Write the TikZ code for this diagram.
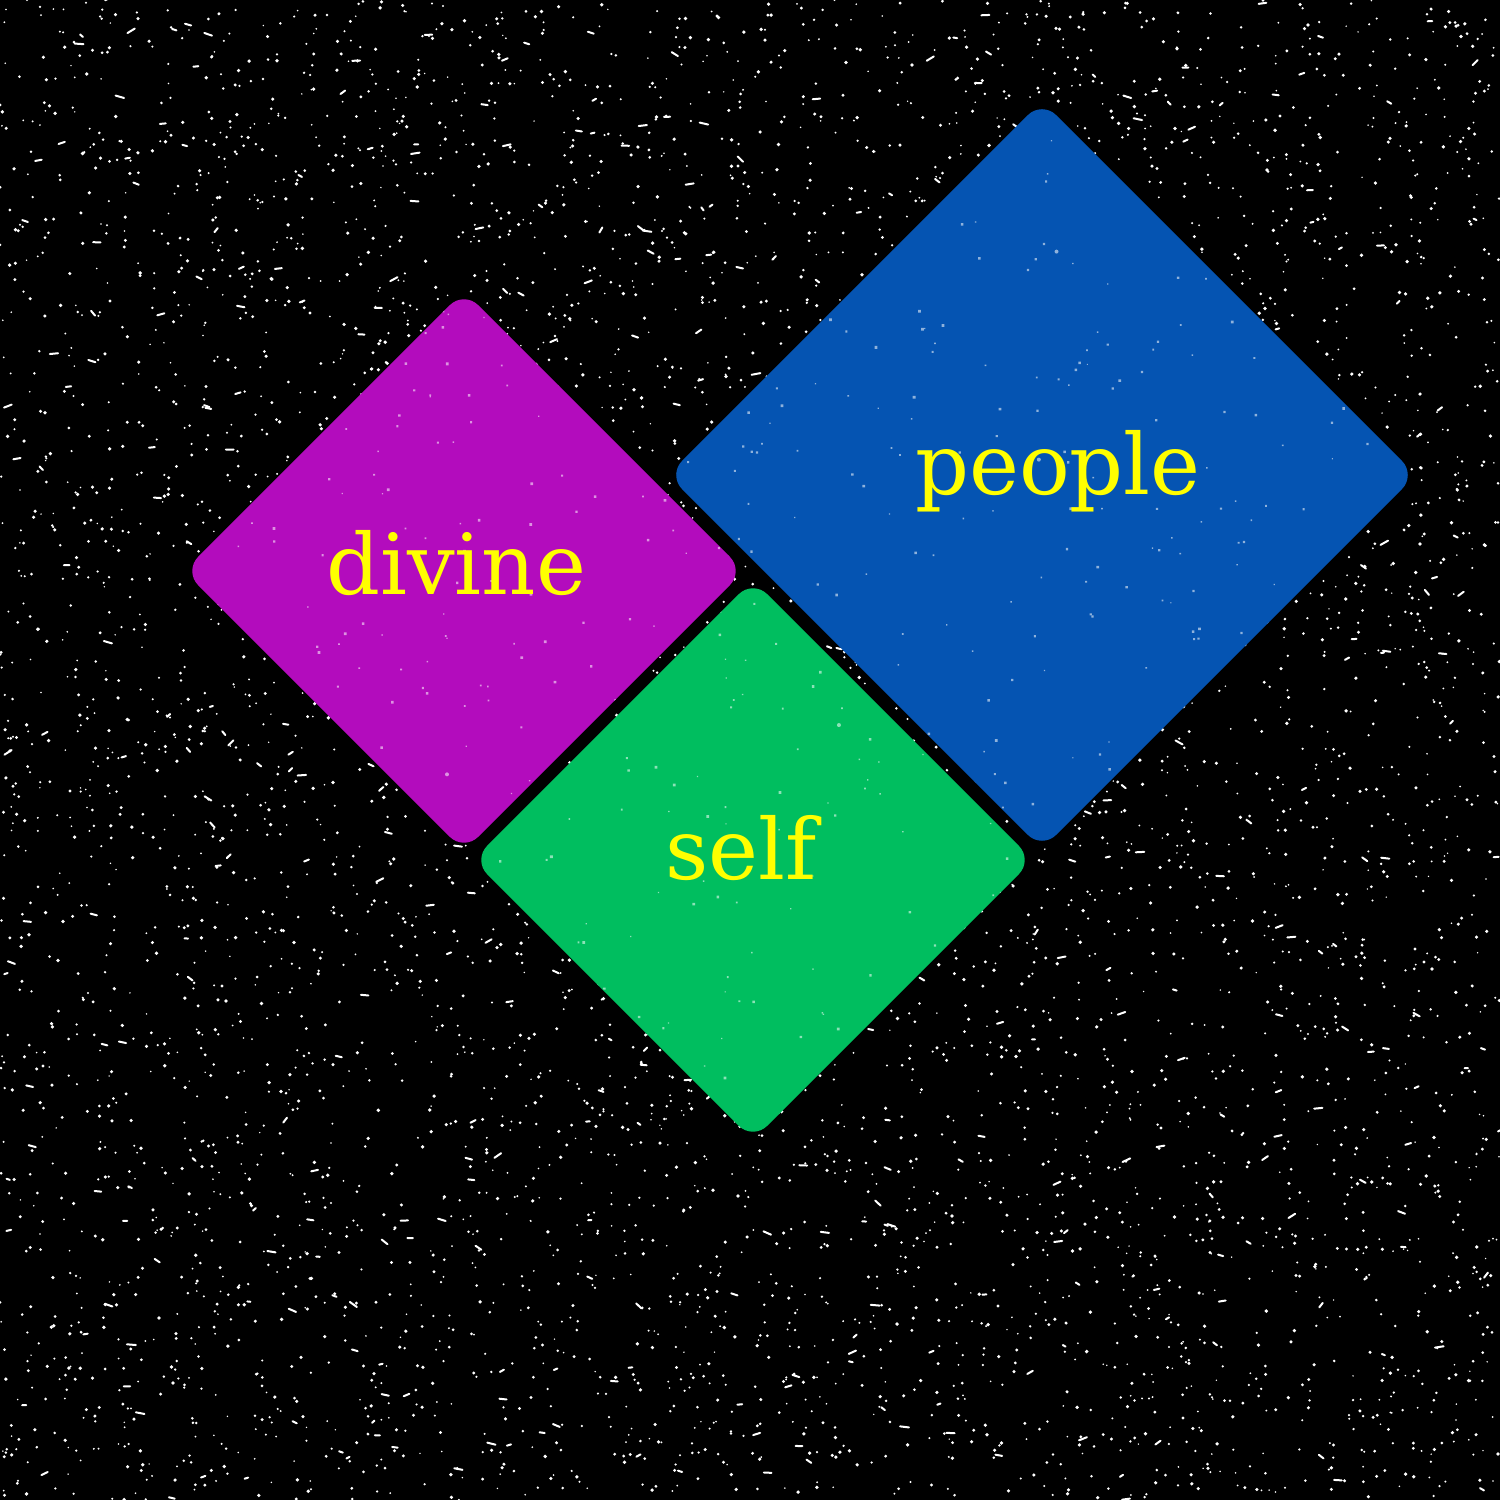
\documentclass[tikz,border=0pt]{standalone}
\usepackage{fontspec}
\setmainfont{DejaVu Serif}
\definecolor{tilepurple}{HTML}{B30CBD}
\definecolor{tileblue}{HTML}{0554B2}
\definecolor{tilegreen}{HTML}{00BE5F}
\definecolor{wordyellow}{HTML}{FFFF00}

\begin{document}
\begin{tikzpicture}[
    tile/.style={rectangle, rotate=45, rounded corners=0.2cm, inner sep=0pt,
        fill=#1,
        path picture={
            \foreach \k in {1,...,300}
                \fill[#1!45!white, shift={(path picture bounding box.center)}]
                    (-3.8+7.6*rnd,-3.8+7.6*rnd) circle (0.008+0.012*rnd);
        }},
    word/.style={text=wordyellow, font=\fontsize{24}{28}\selectfont, anchor=base}]
    \useasboundingbox (0,0) rectangle (15,15);
    \fill[black] (0,0) rectangle (15,15);
    % speckled background
    \pgfmathsetseed{42}
    \foreach \k in {1,...,6000}
        \fill[white] (15*rnd,15*rnd) circle (0.008+0.011*rnd);
    \foreach \k in {1,...,450}
        \draw[white, line width=0.02cm, line cap=round]
            (15*rnd,15*rnd) -- ++(-40+80*rnd:0.03+0.06*rnd);
    % tiles
    \node[tile=tilepurple, minimum size=3.96cm] (divine box) at (4.64,9.29) {};
    \node[tile=tileblue, minimum size=5.29cm] (people box) at (10.42,10.25) {};
    \node[tile=tilegreen, minimum size=3.96cm] (self box) at (7.53,6.40) {};
    % words
    \node[word] (divine) at (4.56,9.05) {divine};
    \node[word] (people) at (10.58,10.05) {people};
    \node[word] (self) at (7.41,6.20) {self};
\end{tikzpicture}
\end{document}
